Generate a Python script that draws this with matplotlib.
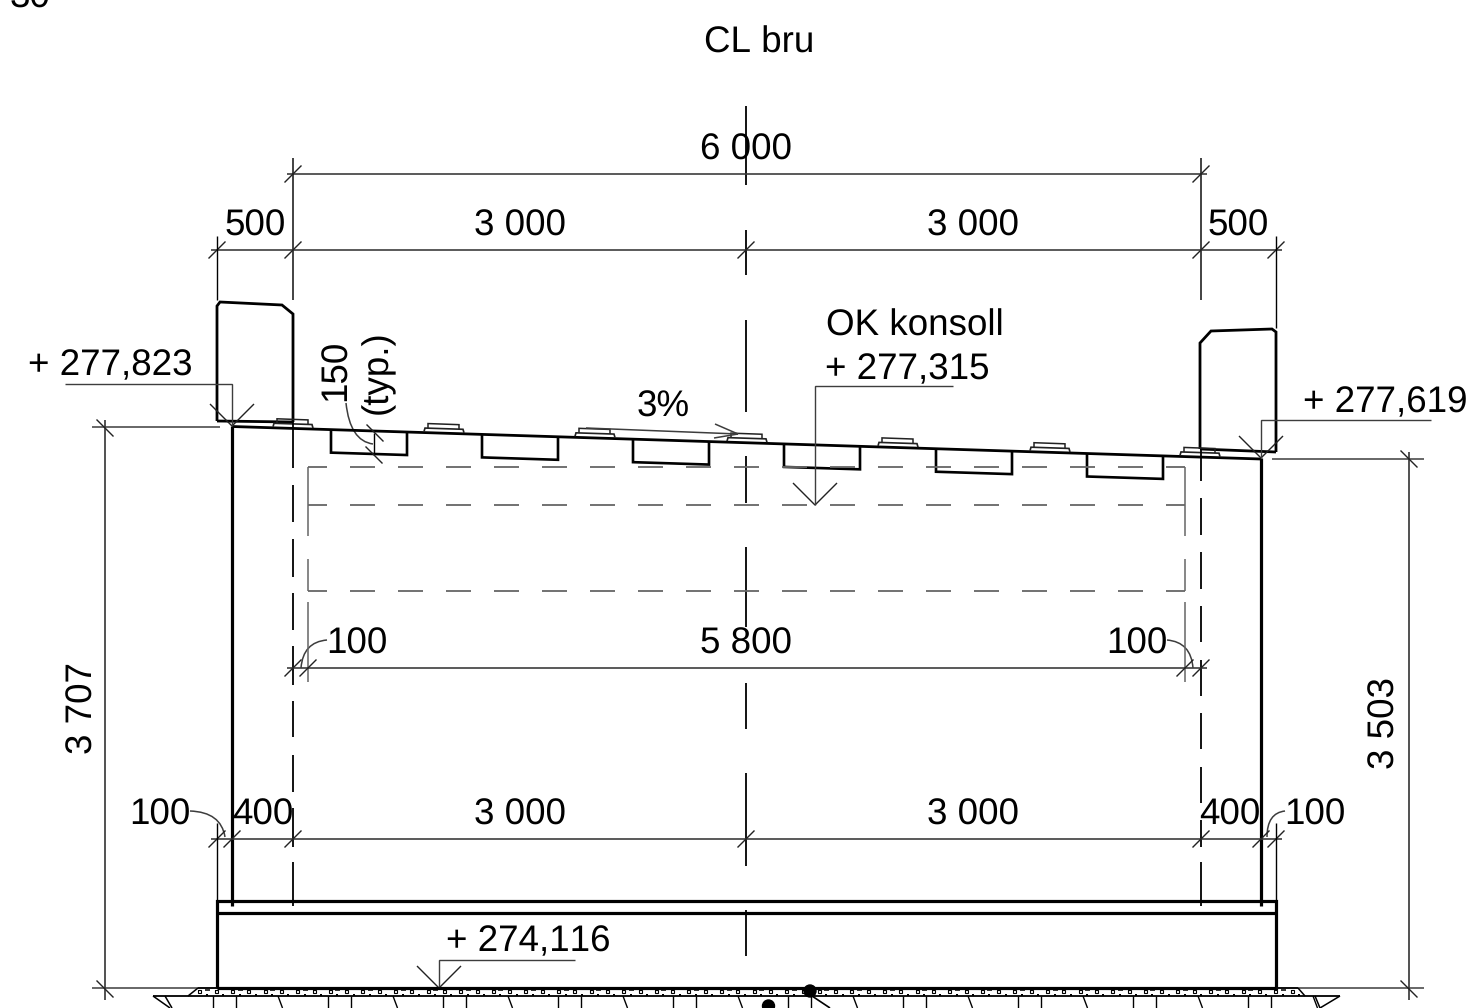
import matplotlib
matplotlib.use("Agg")
import matplotlib.pyplot as plt
from matplotlib.patches import Circle, PathPatch
from matplotlib.path import Path

plt.rcParams['font.family'] = ['Liberation Sans', 'DejaVu Sans']
plt.rcParams['text.kerning_factor'] = 6  # no pair kerning, "116" is wide in the drawing
plt.rcParams['text.hinting'] = 'none'

# sheet coordinates of the drawing
ABUT_X = [232, 1261]
CENTER_X = 746
DECK_X = [232, 1261]
DECK_Y = [426.5, 459]
BOX_LEFT = [331, 482, 633, 784, 936, 1087]
PAD_LEFT = [273, 424, 575, 727, 878, 1030, 1180]
CL_SEGMENTS = [(106, 185), (230, 275), (320, 412), (456, 503), (547, 627),
               (683, 729), (773, 866), (910, 956)]
DASH_293 = [(421, 468), (485, 522), (539, 577), (593, 630), (646, 685), (701, 737),
            (755, 792), (808, 847), (862, 906)]
DASH_1201 = [(449, 481), (498, 535), (552, 589), (606, 642), (660, 696), (713, 749),
             (767, 803), (820, 847), (862, 906)]
DASH_ROWS = [467, 505, 591]

# text, x, baseline y, horizontal alignment
LABELS = [
    ("CL bru", 759, 53, 'center'),
    ("6 000", 746, 160, 'center'),
    ("500", 255, 236, 'center'),
    ("3 000", 520, 236, 'center'),
    ("3 000", 973, 236, 'center'),
    ("500", 1238, 236, 'center'),
    ("OK konsoll", 826, 336, 'left'),
    ("+ 277,315", 825, 379, 'left'),
    ("+ 277,823", 28, 375, 'left'),
    ("+ 277,619", 1303, 412, 'left'),
    ("3%", 663, 417, 'center'),
    ("100", 326, 654, 'left'),
    ("5 800", 746, 654, 'center'),
    ("100", 1106, 654, 'left'),
    ("100", 129, 825, 'left'),
    ("400", 263, 825, 'center'),
    ("3 000", 520, 825, 'center'),
    ("3 000", 973, 825, 'center'),
    ("400", 1230, 825, 'center'),
    ("100", 1284, 825, 'left'),
    ("+ 274,116", 446, 951, 'left'),
    ("30", 10, 8, 'left'),
]
ROT_LABELS = [
    ("3 707", 93, 708),
    ("3 503", 1395, 723),
    ("150", 346, 370),
    ("(typ.)", 387, 372),
]

BLACK = '#000000'
GREY = '#3d3d3d'
DASH_GREY = '#666666'
FONT_SIZE = 26.5

fig = plt.figure(figsize=(14.7, 10.08), dpi=100)
ax = fig.add_axes([0, 0, 1, 1])
ax.set_xlim(0, 1470)
ax.set_ylim(1008, 0)
ax.axis('off')


def line(xs, ys, lw=1.0, color=BLACK):
    ax.plot(xs, ys, color=color, lw=lw, solid_capstyle='butt', solid_joinstyle='miter')


def deck_y(x):
    return DECK_Y[0] + (x - DECK_X[0]) * (DECK_Y[1] - DECK_Y[0]) / (DECK_X[1] - DECK_X[0])


def slash(x, y):
    line([x - 8.5, x + 8.5], [y + 8.5, y - 8.5], 1.0, '#222222')


def back_slash(x, y):
    line([x - 8.5, x + 8.5], [y - 8.5, y + 8.5], 1.0, '#222222')


def level(x, y, x_end, y_line, size=22):
    # level marker: V on the point and a leader to the text
    line([x - size, x, x + size], [y - size, y, y - size], 1.0, '#222222')
    line([x, x, x_end], [y, y_line, y_line], 1.0, GREY)


def curve(p0, p1, p2):
    path = Path([p0, p1, p2], [Path.MOVETO, Path.CURVE3, Path.CURVE3])
    ax.add_patch(PathPatch(path, fc='none', ec=GREY, lw=1.1))


# railings
line([217, 217, 220, 282, 293, 293], [421, 306, 302, 305, 314, 422], 2.0)
line([217, 293], [421, 422], 2.0)
line([1200, 1200, 1211, 1272, 1276, 1276], [449, 343, 331, 329, 332, 452], 2.0)
line([1200, 1276], [449, 452], 2.0)

# deck, beams and plates
line(DECK_X, DECK_Y, 2.0)
for x in BOX_LEFT:
    line([x, x, x + 76, x + 76], [deck_y(x), deck_y(x) + 23, deck_y(x + 76) + 23, deck_y(x + 76)], 1.9)
for x in PAD_LEFT:
    line([x, x + 1, x + 39, x + 40], [deck_y(x) - 1, deck_y(x) - 4.5, deck_y(x + 39) - 4.5, deck_y(x + 40) - 1], 1.2, '#222222')
    line([x + 4, x + 4, x + 35, x + 35], [deck_y(x) - 4.5, deck_y(x) - 9, deck_y(x + 35) - 9, deck_y(x + 35) - 4.5], 1.1, '#222222')

# abutment walls and foundation
line([ABUT_X[0], ABUT_X[0]], [426, 906], 2.3)
line([ABUT_X[1], ABUT_X[1]], [458, 906], 2.3)
line([217, 217, 1276, 1276, 217], [988, 901, 901, 988, 988], 2.3)
line([217, 1276], [913, 913], 2.3)

# centre line and dashed guides
for y0, y1 in CL_SEGMENTS:
    line([CENTER_X, CENTER_X], [y0, y1], 1.3)
for y0, y1 in DASH_293:
    line([293, 293], [y0, y1], 1.3)
for y0, y1 in DASH_1201:
    line([1201, 1201], [y0, y1], 1.3)

# dashed cross girders
for y in DASH_ROWS:
    line([308, 327], [y, y], 1.3, DASH_GREY)
    for k in range(17):
        line([350 + 48 * k, 375 + 48 * k], [y, y], 1.3, DASH_GREY)
    line([1166, 1185], [y, y], 1.3, DASH_GREY)
for x in [308, 1185]:
    line([x, x], [467, 536], 1.1, DASH_GREY)
    line([x, x], [559, 591], 1.1, DASH_GREY)
    line([x, x], [602, 682], 1.1, DASH_GREY)

# dimension lines
line([287, 1207], [174, 174], 1.2, GREY)
line([293, 293], [158, 300], 1.2, '#222222')
line([1201, 1201], [158, 300], 1.2, '#222222')
for x in [293, 1201]:
    slash(x, 174)
line([211, 1282], [250, 250], 1.2, GREY)
for x in [217, 293, 746, 1201, 1276]:
    slash(x, 250)
line([217, 217], [236, 300], 1.0)
line([1276, 1276], [236, 328], 1.0)
line([287, 1207], [668, 668], 1.2, GREY)
for x in [293, 308, 1185, 1201]:
    slash(x, 668)
line([211, 1282], [839, 839], 1.2, GREY)
for x in [217, 232, 293, 746, 1201, 1261, 1276]:
    slash(x, 839)
line([217, 217], [823, 901], 1.0)
line([1276, 1276], [823, 901], 1.0)

# vertical dimensions
line([105, 105], [420, 1000], 1.1, '#222222')
line([92, 220], [427, 427], 1.1, GREY)
line([92, 217], [988, 988], 1.1, GREY)
back_slash(105, 428)
back_slash(105, 989)
line([1409, 1409], [452, 1000], 1.1, '#222222')
line([1272, 1424], [459, 459], 1.1, GREY)
line([1276, 1424], [988, 988], 1.1, GREY)
back_slash(1409, 459)
back_slash(1409, 989)

# levels
level(232, 426, 65, 384)
level(1261, 458, 1431, 420)
level(815, 505, 953, 386)
level(439, 988, 575, 960)

# slope arrow
line([586, 738], [428, 434], 1.1, GREY)
line([715, 738, 714], [424, 434, 438], 1.1, GREY)

# 150 (typ.) dimension
line([374, 374], [433, 455], 1.0)
back_slash(375, 433)
back_slash(374, 455)
curve((346, 403), (350, 441), (373, 444))

# leaders of the small dimensions
curve((327, 640), (303, 642), (301, 668))
curve((1167, 640), (1191, 642), (1193, 668))
curve((190, 811), (221, 812), (225, 837))
curve((1285, 811), (1267, 813), (1267, 837))

# ground layer
line([198, 1298], [988, 988], 1.2)
line([153, 1340], [996, 996], 1.3)
line([188, 198], [996, 988], 1.1)
line([1298, 1305], [988, 996], 1.1)
line([153, 170], [996, 1008], 1.1)
line([165, 172], [996, 1008], 1.1)
line([1340, 1320], [996, 1008], 1.1)
line([1315, 1320], [996, 1008], 1.1)
for k in range(68):
    x = 200 + 16.3 * k
    line([x - 1.5, x - 1.5, x + 1.5, x + 1.5, x - 1.5], [989.5, 993, 993, 989.5, 989.5], 0.8)
    ax.plot([x + 7], [995], marker='s', ms=1.6, color=BLACK, mew=0)
    if k % 2 == 0:
        line([x + 5, x + 10], [989.5, 989.5], 1.1)
for k in range(10):
    x = 213.5 + 115 * k
    if x < 1260:
        line([x, x], [996, 1008], 1.0)
        line([x + 23, x + 23], [996, 1008], 1.0)
        line([x + 64.5, x + 69], [996, 1008], 1.0)
line([812, 830], [996, 1008], 1.2)
ax.add_patch(Circle((810, 991), 6, color=BLACK))
ax.add_patch(Circle((768.5, 1006), 6, color=BLACK))

for text, x, y, align in LABELS:
    ax.text(x, y, text, ha=align, va='baseline', fontsize=FONT_SIZE, color=BLACK, clip_on=False)
for text, x, y in ROT_LABELS:
    ax.text(x, y, text, ha='center', va='baseline', rotation=90, rotation_mode='anchor',
            fontsize=FONT_SIZE, color=BLACK)

fig.savefig('out.png', dpi=100)
